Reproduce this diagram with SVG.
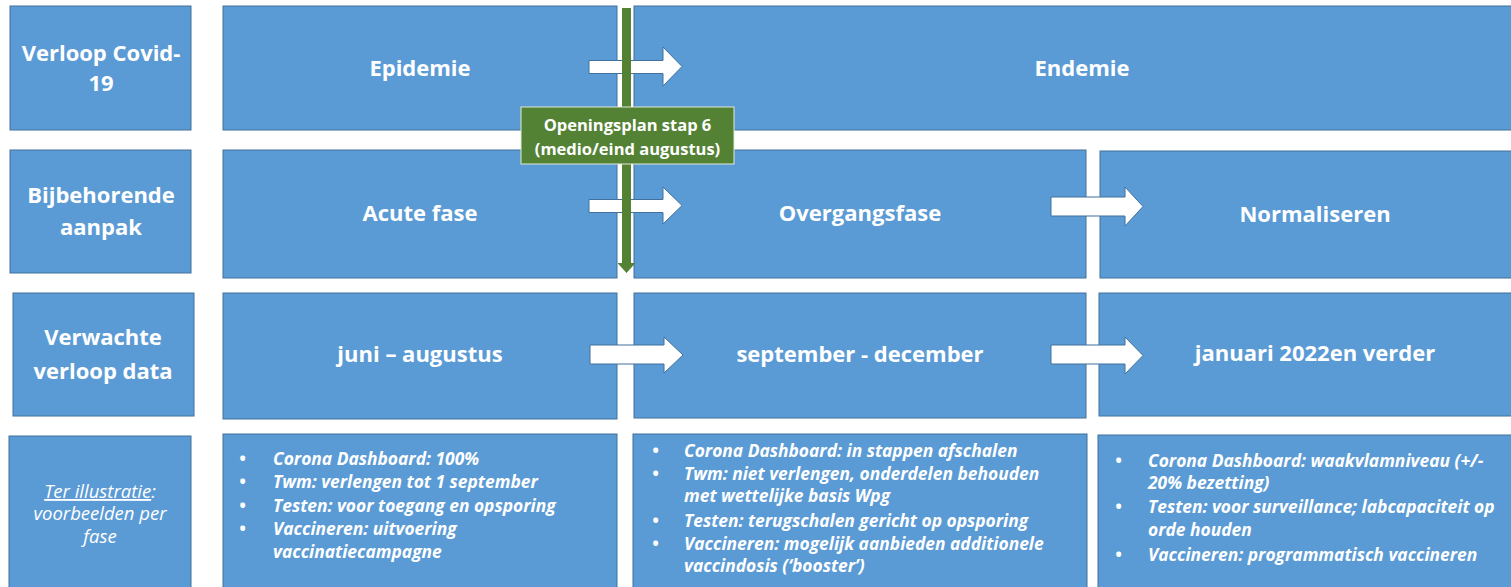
<svg xmlns="http://www.w3.org/2000/svg" width="1511" height="587" viewBox="0 0 1511 587">
<style>
.box{fill:#5B9BD5;stroke:#41719C;stroke-width:1}
.t{font-family:"Open Sans","Liberation Sans",sans-serif;font-weight:bold;fill:#ffffff;text-anchor:middle;font-size:22px}
.b{font-family:"Open Sans","Liberation Sans",sans-serif;font-weight:bold;font-style:italic;fill:#ffffff;font-size:17.4px}
.i{font-family:"Open Sans","Liberation Sans",sans-serif;font-style:italic;fill:#ffffff;font-size:18.5px;text-anchor:middle}
.arr{fill:#ffffff;stroke:#41719C;stroke-width:1}
.g{fill:#548235}
.lbl{font-family:"Open Sans","Liberation Sans",sans-serif;font-weight:bold;fill:#ffffff;font-size:16.5px;text-anchor:middle}
</style>
<rect width="1511" height="587" fill="#ffffff"/>
<g id="row-labels">
<g id="lbl-verloop"><rect class="box" x="10" y="6" width="181" height="124"/><text class="t" x="101" y="61">Verloop Covid-</text><text class="t" x="101" y="91">19</text></g>
<g id="lbl-aanpak"><rect class="box" x="10" y="150" width="181" height="123"/><text class="t" x="101" y="203">Bijbehorende</text><text class="t" x="101" y="235">aanpak</text></g>
<g id="lbl-data"><rect class="box" x="13" y="293" width="181" height="123"/><text class="t" x="103" y="345">Verwachte</text><text class="t" x="103" y="379">verloop data</text></g>
<g id="lbl-illustratie"><rect class="box" x="9" y="436" width="182" height="155"/>
<text class="i" x="100" y="498"><tspan text-decoration="underline">Ter illustratie</tspan>:</text>
<text class="i" x="100" y="520">voorbeelden per</text>
<text class="i" x="100" y="543">fase</text></g>
</g>
<g id="epidemie"><rect class="box" x="223" y="6" width="394" height="124"/><text class="t" x="420" y="76">Epidemie</text></g>
<g id="endemie"><rect class="box" x="634" y="6" width="890" height="124"/><text class="t" x="1082" y="76">Endemie</text></g>
<g id="acute"><rect class="box" x="223" y="150" width="394" height="128"/><text class="t" x="420" y="221">Acute fase</text></g>
<g id="overgang"><rect class="box" x="634" y="150" width="452" height="128"/><text class="t" x="860" y="221">Overgangsfase</text></g>
<g id="normaliseren"><rect class="box" x="1100" y="151" width="424" height="127"/><text class="t" x="1315" y="222">Normaliseren</text></g>
<g id="juni"><rect class="box" x="223" y="293" width="394" height="126"/><text class="t" x="420" y="362">juni – augustus</text></g>
<g id="september"><rect class="box" x="634" y="293" width="452" height="125"/><text class="t" x="860" y="362">september - december</text></g>
<g id="januari"><rect class="box" x="1099" y="293" width="425" height="123"/><text class="t" x="1315" y="361">januari 2022en verder</text></g>
<g id="ex-acute"><rect class="box" x="223" y="434" width="394" height="160"/>
<g class="b">
<text x="239" y="465">•</text><text x="273" y="465">Corona Dashboard: 100%</text>
<text x="239" y="488">•</text><text x="273" y="488">Twm: verlengen tot 1 september</text>
<text x="239" y="512">•</text><text x="273" y="512">Testen: voor toegang en opsporing</text>
<text x="239" y="535">•</text><text x="273" y="535">Vaccineren: uitvoering</text>
<text x="273" y="558">vaccinatiecampagne</text>
</g></g>
<g id="ex-overgang"><rect class="box" x="633" y="434" width="454" height="160"/>
<g class="b">
<text x="652" y="457">•</text><text x="684" y="457">Corona Dashboard: in stappen afschalen</text>
<text x="652" y="480">•</text><text x="684" y="480">Twm: niet verlengen, onderdelen behouden</text>
<text x="684" y="502">met wettelijke basis Wpg</text>
<text x="652" y="527">•</text><text x="684" y="527">Testen: terugschalen gericht op opsporing</text>
<text x="652" y="550">•</text><text x="684" y="550">Vaccineren: mogelijk aanbieden additionele</text>
<text x="684" y="572">vaccindosis (‘booster’)</text>
</g></g>
<g id="ex-normaliseren"><rect class="box" x="1098" y="435" width="426" height="160"/>
<g class="b">
<text x="1115" y="467">•</text><text x="1148" y="467">Corona Dashboard: waakvlamniveau (+/-</text>
<text x="1148" y="489">20% bezetting)</text>
<text x="1115" y="513">•</text><text x="1148" y="513">Testen: voor surveillance; labcapaciteit op</text>
<text x="1148" y="536">orde houden</text>
<text x="1115" y="561">•</text><text x="1148" y="561">Vaccineren: programmatisch vaccineren</text>
</g></g>
<g id="connectors">
<path class="arr" d="M589,60.5 H663 V47 L682,66.5 L663,86 V73.5 H589 Z"/>
<path class="arr" d="M589,199.5 H663 V187 L682,205.5 L663,224 V212.5 H589 Z"/>
<path class="arr" d="M1051,197 H1125 V187 L1143,206.5 L1125,226 V216 H1051 Z"/>
<path class="arr" d="M590,345 H664 V337 L683,355 L664,373 V364 H590 Z"/>
<path class="arr" d="M1051,345 H1125 V337 L1143,355.5 L1125,374 V364 H1051 Z"/>
<path class="g" d="M622,8 H631 V263 H635.5 L626.5,273 L617.5,263 H622 Z"/>
</g>
<g id="openingsplan">
<rect x="521" y="107" width="213" height="57" fill="#548235" stroke="#dfe8d6" stroke-width="1"/>
<text class="lbl" x="627.5" y="131">Openingsplan stap 6</text>
<text class="lbl" x="627.5" y="155">(medio/eind augustus)</text>
</g>
</svg>
